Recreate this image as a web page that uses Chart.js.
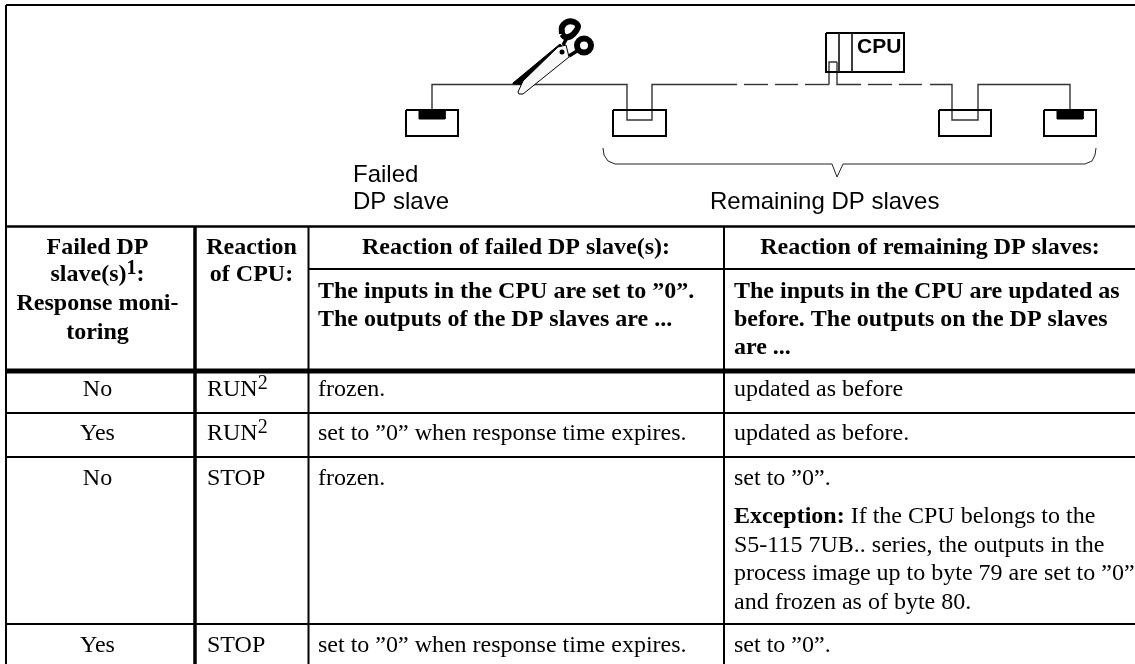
<!DOCTYPE html>
<html>
<head>
<meta charset="utf-8">
<title>DP slave failure</title>
<script src="https://cdn.jsdelivr.net/npm/chart.js@4"></script>
<style>
  html, body { margin: 0; padding: 0; background: #fff; overflow: hidden; }
  #chart { display: block; }
</style>
</head>
<body>
<canvas id="chart" width="1135" height="664"></canvas>
<script>
// table content
const failedMonitoring = ['No', 'Yes', 'No', 'Yes'];
const cpuReaction = ['RUN', 'RUN', 'STOP', 'STOP'];
const cpuFootnote = ['2', '2', '', ''];
const failedReaction = ['frozen.', 'set to ”0” when response time expires.', 'frozen.', 'set to ”0” when response time expires.'];
const remainingReaction = ['updated as before', 'updated as before.', 'set to ”0”.', 'set to ”0”.'];
const exceptionLines = ['If the CPU belongs to the', 'S5-115 7UB.. series, the outputs in the', 'process image up to byte 79 are set to ”0”', 'and frozen as of byte 80.'];
const failedHead = ['The inputs in the CPU are set to ”0”.', 'The outputs of the DP slaves are ...'];
const remainingHead = ['The inputs in the CPU are updated as', 'before. The outputs on the DP slaves', 'are ...'];

// table rules, in picture pixels
const frameLeft = 6, frameTop = 5, pageRight = 1135, pageBottom = 664;
const headTop = 226.5, subHead = 269, headBottom = 371;
const rowRules = [413, 457, 624];
const colFailed = 195, colCpu = 308.5, colRemaining = 724;

// network drawing
const busY = 84.5;
const slaveBoxes = [[406, 458], [613, 666], [939, 991], [1044, 1096]];
const slaveTop = 110, slaveBottom = 136;
const failedCaps = [[419, 445], [1057, 1083]];
const cable = [[432, 110], [432, 84.5], [627, 84.5], [627, 120], [652, 120], [652, 84.5], [737, 84.5]];
const cableRight = [[837, 62], [837, 84.5], [861, 84.5]];
const cableEnd = [[930, 84.5], [952, 84.5], [952, 120], [978, 120], [978, 84.5], [1070, 84.5], [1070, 110]];
const cableStub = [[829, 84.5], [829, 62], [837, 62]];
const dashedRuns = [[744, 768], [775, 798], [805, 829], [868, 892], [899, 922]];
const cpuBox = [[826, 33], [904, 33], [904, 72], [826, 72], [826, 33]];
const cpuSlots = [839, 852];
const brace = [[603, 148], [604, 155], [608, 161], [615, 164], [832, 164], [837, 177], [843, 164], [1085, 164], [1092, 161], [1095, 155], [1096, 148]];

// scissors
const bladeBlack = [[513, 83], [560, 44], [563, 47], [521, 84], [513, 84], [513, 83]];
const bladeWhite = [[518, 92], [523, 81], [558, 47], [566, 45], [569, 57], [523, 94], [519, 94], [518, 92]];
const shanks = [[[563, 45], [568, 36]], [[569, 56], [577, 51]]];
const upperGrip = [[562, 34], [562, 27], [567, 22], [574, 22], [578, 26], [576, 31], [571, 36], [565, 37], [562, 34]];
const lowerGrip = [[584, 45.5]];
const pivot = [[562, 52]];

const toPoints = pts => pts.map(p => ({ x: p[0], y: p[1] }));

function path(pts, width, color, extra) {
    return Object.assign({
        data: toPoints(pts),
        showLine: true,
        borderColor: color || '#000',
        borderWidth: width,
        pointRadius: 0,
        tension: 0,
        fill: false,
        clip: false,
        borderJoinStyle: 'miter'
    }, extra || {});
}

function box(x0, x1, y0, y1) {
    return [[x0, y0], [x1, y0], [x1, y1], [x0, y1], [x0, y0]];
}

const datasets = [];

// table rules
datasets.push(path([[frameLeft, frameTop], [pageRight, frameTop]], 2));
datasets.push(path([[frameLeft, frameTop], [frameLeft, pageBottom]], 2));
datasets.push(path([[frameLeft, headTop], [pageRight, headTop]], 2.5));
datasets.push(path([[colCpu, subHead], [pageRight, subHead]], 2));
datasets.push(path([[frameLeft, headBottom], [pageRight, headBottom]], 5));
rowRules.forEach(y => datasets.push(path([[frameLeft, y], [pageRight, y]], 2)));
datasets.push(path([[colFailed, headTop], [colFailed, pageBottom]], 3.5));
datasets.push(path([[colCpu, headTop], [colCpu, pageBottom]], 2));
datasets.push(path([[colRemaining, headTop], [colRemaining, pageBottom]], 2));

// cable
[cable, cableRight, cableEnd, cableStub].forEach(c => datasets.push(path(c, 1.4, '#333')));
dashedRuns.forEach(r => datasets.push(path([[r[0], busY], [r[1], busY]], 1.4, '#333')));

// slaves
slaveBoxes.forEach(b => datasets.push(path(box(b[0], b[1], slaveTop, slaveBottom), 2)));
failedCaps.forEach(b => datasets.push(path(box(b[0], b[1], slaveTop, slaveTop + 9), 1, '#000', { fill: 'shape', backgroundColor: '#000' })));

// cpu
datasets.push(path(cpuBox, 2));
cpuSlots.forEach(x => datasets.push(path([[x, 33], [x, 72]], 1, '#222')));

datasets.push(path(brace, 1, '#222'));

// scissors
datasets.push(path(bladeBlack, 1, '#000', { fill: 'shape', backgroundColor: '#000' }));
datasets.push(path(bladeWhite, 1, '#000', { fill: 'shape', backgroundColor: '#f8f8f8' }));
shanks.forEach(s => datasets.push(path(s, 3.5)));
datasets.push(path(upperGrip, 6, '#000', { tension: 0.3 }));
datasets.push({ data: toPoints(lowerGrip), showLine: false, pointRadius: 7, pointBorderWidth: 6, pointBorderColor: '#000', pointBackgroundColor: '#fff', clip: false });
datasets.push({ data: toPoints(pivot), showLine: false, pointRadius: 2.5, pointBackgroundColor: '#000', pointBorderWidth: 0, clip: false });

// chart.js paints the first dataset last, we want the scissors on top
datasets.reverse();

const SERIF = '"Liberation Serif"', SANS = '"Liberation Sans"';
const bodyFont = '24px ' + SERIF, boldFont = 'bold 24px ' + SERIF, sansFont = '24px ' + SANS;

// runs = [[text, font, raise], ...]
function drawRuns(ctx, x, y, runs, align) {
    let total = 0;
    runs.forEach(r => { ctx.font = r[1]; total += ctx.measureText(r[0]).width; });
    let cx = align === 'center' ? x - total / 2 : x;
    runs.forEach(r => {
        ctx.font = r[1];
        ctx.fillText(r[0], cx, y - (r[2] || 0));
        cx += ctx.measureText(r[0]).width;
    });
}

const tableText = {
    id: 'tableText',
    afterDatasetsDraw(chart) {
        const { ctx, scales } = chart;
        const X = v => scales.x.getPixelForValue(v);
        const Y = v => scales.y.getPixelForValue(v);
        const put = (x, y, runs, align) => drawRuns(ctx, X(x), Y(y), runs, align);
        ctx.save();
        ctx.fillStyle = '#000';
        ctx.textBaseline = 'alphabetic';

        // drawing labels
        put(353, 182, [['Failed', sansFont]]);
        put(353, 209, [['DP slave', sansFont]]);
        put(710, 209, [['Remaining DP slaves', sansFont]]);
        put(857, 53, [['CPU', 'bold 21px ' + SANS]]);

        // column heads
        put(97.5, 254, [['Failed DP', boldFont]], 'center');
        put(97.5, 281, [['slave(s)', boldFont], ['1', 'bold 20px ' + SERIF, 7], [':', boldFont]], 'center');
        put(97.5, 310, [['Response moni-', boldFont]], 'center');
        put(97.5, 339, [['toring', boldFont]], 'center');
        put(251.5, 254, [['Reaction', boldFont]], 'center');
        put(251.5, 281, [['of CPU:', boldFont]], 'center');
        put(516, 254, [['Reaction of failed DP slave(s):', boldFont]], 'center');
        put(930, 254, [['Reaction of remaining DP slaves:', boldFont]], 'center');
        failedHead.forEach((t, i) => put(318, 298 + i * 28, [[t, boldFont]]));
        remainingHead.forEach((t, i) => put(734, 298 + i * 28, [[t, boldFont]]));

        // rows
        const rowBaselines = [396, 440, 485, 652];
        rowBaselines.forEach((y, i) => {
            put(97.5, y, [[failedMonitoring[i], bodyFont]], 'center');
            const cpu = [[cpuReaction[i], bodyFont]];
            if (cpuFootnote[i]) cpu.push([cpuFootnote[i], '20px ' + SERIF, 7]);
            put(207, y, cpu);
            put(318, y, [[failedReaction[i], bodyFont]]);
            put(734, y, [[remainingReaction[i], bodyFont]]);
        });
        exceptionLines.forEach((t, i) => {
            const runs = i === 0 ? [['Exception: ', boldFont], [t, bodyFont]] : [[t, bodyFont]];
            put(734, 523 + i * 28.5, runs);
        });
        ctx.restore();
    }
};

new Chart(document.getElementById('chart'), {
    type: 'scatter',
    data: { datasets: datasets },
    options: {
        responsive: false,
        animation: false,
        events: [],
        layout: { padding: 0, autoPadding: false },
        plugins: { legend: { display: false }, tooltip: { enabled: false }, title: { display: false } },
        scales: {
            x: { type: 'linear', min: 0, max: pageRight, display: false },
            y: { type: 'linear', min: 0, max: pageBottom, reverse: true, display: false }
        }
    },
    plugins: [tableText]
});
</script>
</body>
</html>
